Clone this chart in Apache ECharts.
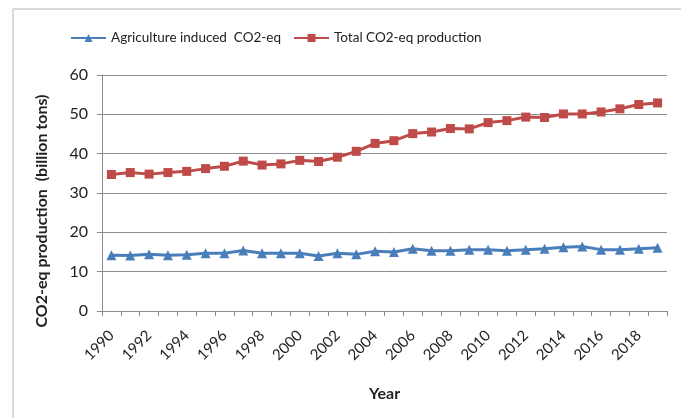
<!DOCTYPE html>
<html>
<head>
<meta charset="utf-8">
<script src="https://cdn.jsdelivr.net/npm/echarts@6/dist/echarts.min.js"></script>
<style>
  html, body { margin: 0; padding: 0; background: #fff; }
  #chart { width: 681px; height: 418px; }
</style>
</head>
<body>
<div id="chart"></div>
<script>
// Years on the category axis
const years = [
  '1990','1991','1992','1993','1994','1995','1996','1997','1998','1999',
  '2000','2001','2002','2003','2004','2005','2006','2007','2008','2009',
  '2010','2011','2012','2013','2014','2015','2016','2017','2018','2019'
];

// Agriculture induced CO2-eq (billion tons)
const agriculture = [
  14.2, 14.1, 14.4, 14.2, 14.3, 14.7, 14.7, 15.4, 14.7, 14.7,
  14.7, 14.0, 14.7, 14.4, 15.2, 15.0, 15.8, 15.3, 15.3, 15.6,
  15.6, 15.3, 15.6, 15.8, 16.2, 16.4, 15.6, 15.6, 15.8, 16.1
];

// Total CO2-eq production (billion tons)
const total = [
  34.7, 35.2, 34.8, 35.2, 35.5, 36.2, 36.8, 38.1, 37.1, 37.4,
  38.3, 38.0, 39.1, 40.6, 42.6, 43.3, 45.1, 45.5, 46.4, 46.3,
  47.9, 48.4, 49.3, 49.2, 50.1, 50.1, 50.6, 51.4, 52.5, 52.9
];

const FONT = 'Lato, "Open Sans", sans-serif';
const chart = echarts.init(document.getElementById('chart'), null, { renderer: 'canvas' });

chart.setOption({
  backgroundColor: '#ffffff',
  animation: false,
  textStyle: { fontFamily: FONT },
  // outer frame of the chart area
  graphic: [
    { type: 'line', shape: { x1: 13, y1: 9, x2: 681, y2: 9 }, style: { stroke: '#b5b5b5', lineWidth: 1 } },
    { type: 'line', shape: { x1: 13, y1: 9, x2: 13, y2: 418 }, style: { stroke: '#b5b5b5', lineWidth: 1 } }
  ],
  legend: {
    top: 26,
    left: 65,
    itemGap: 12,
    itemWidth: 35,
    itemHeight: 10,
    textStyle: { fontFamily: FONT, fontSize: 13.5, color: '#222' },
    data: ['Agriculture induced  CO2-eq', 'Total CO2-eq production']
  },
  grid: { left: 102, right: 14, top: 75, bottom: 107, containLabel: false },
  xAxis: {
    type: 'category',
    data: years,
    boundaryGap: true,
    name: 'Year',
    nameLocation: 'middle',
    nameGap: 75,
    nameTextStyle: { fontFamily: FONT, fontSize: 16, fontWeight: 'bold', color: '#222' },
    axisLine: { lineStyle: { color: '#8c8c8c', width: 1 } },
    axisTick: { show: true, interval: 0, length: 5, lineStyle: { color: '#8c8c8c' } },
    axisLabel: { interval: 1, rotate: 45, fontSize: 15, color: '#222', margin: 22, fontFamily: FONT },
    splitLine: { show: false }
  },
  yAxis: {
    type: 'value',
    min: 0,
    max: 60,
    interval: 10,
    name: 'CO2-eq production  (billion tons)',
    nameLocation: 'middle',
    nameGap: 52,
    nameTextStyle: { fontFamily: FONT, fontSize: 16, fontWeight: 'bold', color: '#222', padding: [0, 36, 0, 0] },
    axisLine: { show: true, lineStyle: { color: '#8c8c8c', width: 1 } },
    axisTick: { show: true, length: 5, lineStyle: { color: '#8c8c8c' } },
    axisLabel: { fontSize: 16, color: '#222', margin: 14, fontFamily: FONT },
    splitLine: { show: true, lineStyle: { color: '#8c8c8c', width: 1 } }
  },
  series: [
    {
      name: 'Agriculture induced  CO2-eq',
      type: 'line',
      data: agriculture,
      color: '#4a7ebb',
      symbol: 'triangle',
      symbolSize: 10,
      lineStyle: { width: 3, color: '#4a7ebb' },
      itemStyle: { color: '#4a7ebb' }
    },
    {
      name: 'Total CO2-eq production',
      type: 'line',
      data: total,
      color: '#be4b48',
      symbol: 'rect',
      symbolSize: 9,
      lineStyle: { width: 3, color: '#be4b48' },
      itemStyle: { color: '#be4b48' }
    }
  ]
});
</script>
</body>
</html>
